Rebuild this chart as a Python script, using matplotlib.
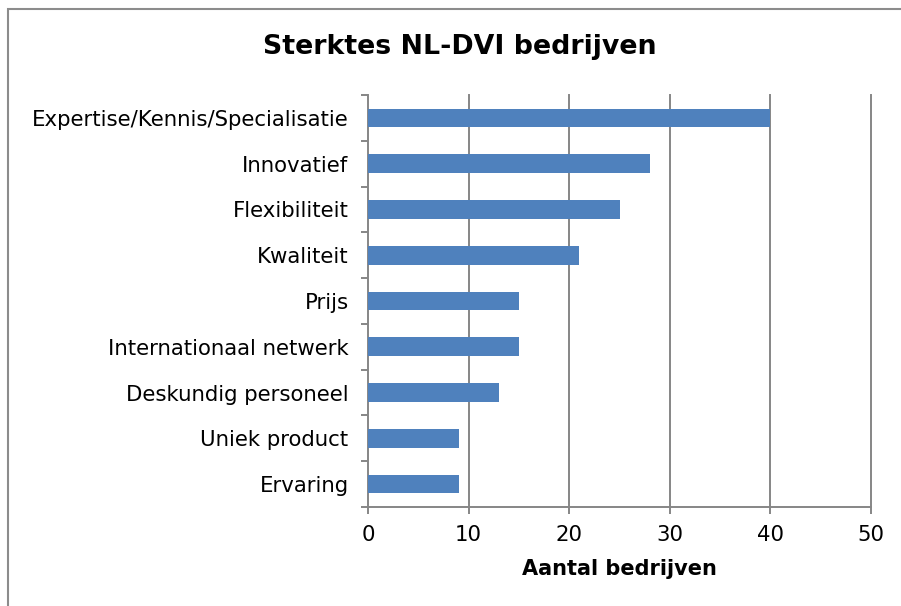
import matplotlib.pyplot as plt
from matplotlib.patches import Rectangle
import numpy as np

categorieen = ['Expertise/Kennis/Specialisatie', 'Innovatief', 'Flexibiliteit', 'Kwaliteit',
               'Prijs', 'Internationaal netwerk', 'Deskundig personeel', 'Uniek product', 'Ervaring']
aantallen = [40, 28, 25, 21, 15, 15, 13, 9, 9]
x_ticks = [0, 10, 20, 30, 40, 50]

grijs = '#868686'
blauw = '#4F81BD'

fig = plt.figure(figsize=(9.01, 6.06), dpi=100)
ax = fig.add_axes([368 / 901, 99 / 606, 503 / 901, 412 / 606])

# onderste categorie eerst tekenen
ypos = np.arange(len(categorieen))[::-1]
ax.barh(ypos, aantallen, height=0.41, color=blauw, zorder=3)

ax.set_xlim(0, 50)
ax.set_ylim(-0.5, len(categorieen) - 0.5)
ax.set_xticks(x_ticks)
ax.set_yticks(ypos)
ax.set_yticklabels(categorieen)
ax.set_yticks(np.arange(-0.5, len(categorieen), 1), minor=True)

for x in x_ticks[1:]:
    ax.axvline(x, color=grijs, lw=1.4, zorder=1, clip_on=False)

for s in ['top', 'right']:
    ax.spines[s].set_visible(False)
for s in ['left', 'bottom']:
    ax.spines[s].set_color(grijs)
    ax.spines[s].set_linewidth(1.4)

ax.tick_params(axis='y', which='major', length=0, pad=14, labelsize=15.3)
ax.tick_params(axis='y', which='minor', length=5, color=grijs, width=1.4)
ax.tick_params(axis='x', length=5, color=grijs, width=1.4, pad=8, labelsize=15.3)

ax.set_xlabel('Aantal bedrijven', fontsize=15, fontweight='bold', labelpad=10)
fig.text(460 / 901, 1 - 47 / 606, 'Sterktes NL-DVI bedrijven', ha='center', va='center',
         fontsize=19.3, fontweight='bold')

# kader rond de grafiek
fig.add_artist(Rectangle((8 / 901, -0.5), 1.2, 1.5 - 9 / 606, transform=fig.transFigure,
                         fill=False, edgecolor='#8c8c8c', lw=1.5))

fig.savefig('out.png', dpi=100)
